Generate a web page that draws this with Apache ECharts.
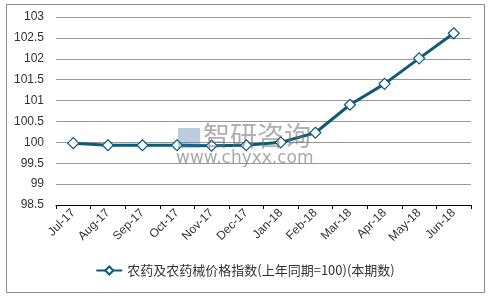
<!DOCTYPE html>
<html><head><meta charset="utf-8">
<script src="https://cdn.jsdelivr.net/npm/echarts@6/dist/echarts.min.js"></script>
<style>html,body{margin:0;padding:0;background:#fff}#c{width:490px;height:296px}</style>
</head><body><div id="c"></div>
<script>
var categories = ['Jul-17','Aug-17','Sep-17','Oct-17','Nov-17','Dec-17','Jan-18','Feb-18','Mar-18','Apr-18','May-18','Jun-18'];
var seriesName = '农药及农药械价格指数(上年同期=100)(本期数)';
var values = [99.98, 99.93, 99.93, 99.93, 99.92, 99.93, 100.0, 100.23, 100.9, 101.4, 102.01, 102.61];
var yTicks = [98.5, 99, 99.5, 100, 100.5, 101, 101.5, 102, 102.5, 103];

var chart = echarts.init(document.getElementById('c'));
chart.setOption({
  animation: false,
  backgroundColor: '#fff',
  graphic: [
    {type:'rect', shape:{x:6.5,y:4.5,width:478,height:288}, style:{fill:'none', stroke:'#8c8c8c', lineWidth:1}, z:-10},
    {type:'rect', shape:{x:178,y:128,width:22,height:20}, style:{fill:'rgba(60,110,160,0.35)'}, z:10},
    {type:'text', left:203, top:122, style:{text:'智研咨询', font:'27px "Noto Sans CJK SC"', fill:'rgba(110,110,110,0.55)'}, z:10},
    {type:'text', left:176, top:150, style:{text:'www.chyxx.com', font:'17px "DejaVu Sans"', fill:'rgba(110,110,110,0.6)'}, z:10}
  ],
  grid: {left:56, right:19, top:17, bottom:91, containLabel:false},
  legend: {
    bottom: 14, left: 'center',
    itemWidth: 26, itemHeight: 10,
    textStyle: {fontSize: 13, color:'#333', fontFamily:'"Noto Sans CJK SC", sans-serif'},
    data: [seriesName]
  },
  xAxis: {
    type:'category', data: categories, boundaryGap: true,
    axisLine: {lineStyle:{color:'#000', width:1}},
    axisTick: {show:true, length:4, lineStyle:{color:'#000'}},
    axisLabel: {rotate:45, fontSize:12, color:'#333', fontFamily:'"Liberation Sans", Arial, sans-serif', margin:6, interval:0}
  },
  yAxis: {
    type:'value', min: yTicks[0], max: yTicks[yTicks.length-1], interval: 0.5,
    axisLine:{show:false}, axisTick:{show:false},
    axisLabel:{fontSize:12, color:'#333', fontFamily:'"Liberation Sans", Arial, sans-serif', margin:12},
    splitLine:{lineStyle:{color:'#999', width:1}}
  },
  series: [{
    name: seriesName, type:'line', data: values,
    symbol:'diamond', symbolSize: 11,
    lineStyle:{color:'#0d5b78', width:3},
    itemStyle:{color:'#fff', borderColor:'#0d5b78', borderWidth:1.2},
    z: 5
  }]
});
</script></body></html>
